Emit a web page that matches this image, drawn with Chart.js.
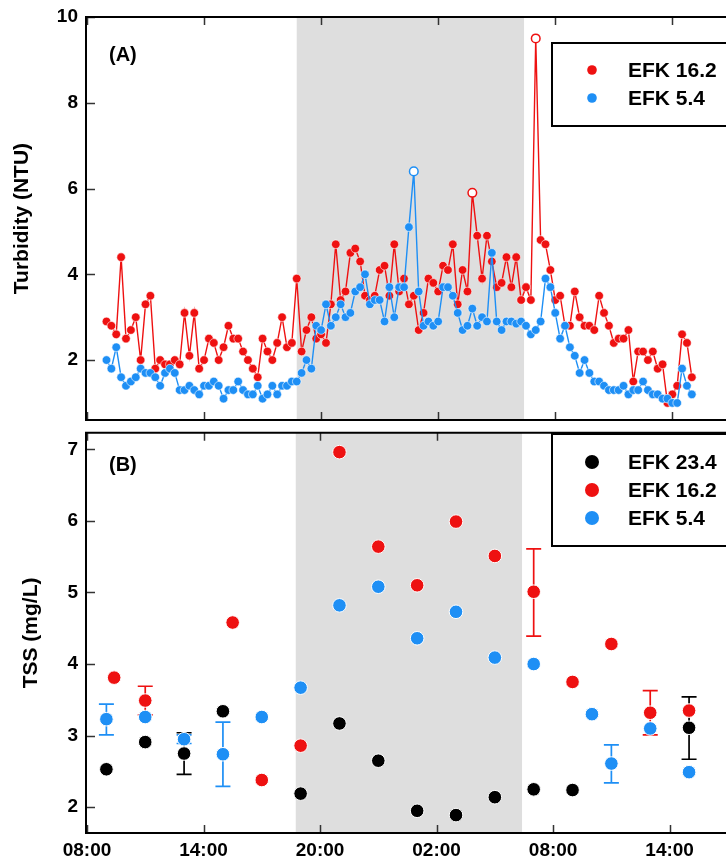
<!DOCTYPE html>
<html>
<head>
<meta charset="utf-8">
<script src="https://cdn.jsdelivr.net/npm/chart.js@4.4.0/dist/chart.umd.min.js"></script>
<style>
body { margin: 0; background: #fff; }
#wrap { position: relative; width: 726px; height: 867px; overflow: hidden; }
canvas { position: absolute; left: 0; }
#turbChart { top: 0; }
#tssChart { top: 425px; }
</style>
</head>
<body>
<div id="wrap">
    <canvas id="turbChart" width="726" height="425"></canvas>
    <canvas id="tssChart" width="726" height="442"></canvas>
</div>
<script>
// Eje de tiempo (horas desde las 00:00 del primer dia)
const xTickValues = [8, 14, 20, 26, 32, 38];
const xTickLabels = ['08:00', '14:00', '20:00', '02:00', '08:00', '14:00'];
const nightStart = 18.75;
const nightEnd = 30.4;

// (A) Turbidez cada 15 min desde las 09:00
const turbStart = 9;
const turbStep = 0.25;
const turbRed = [
    2.9, 2.8, 2.6, 4.4, 2.5, 2.7, 3.0, 2.0, 3.3, 3.5,
    1.8, 2.0, 1.9, 1.9, 2.0, 1.9, 3.1, 2.1, 3.1, 1.8,
    2.0, 2.5, 2.4, 2.0, 2.3, 2.8, 2.5, 2.5, 2.2, 2.0,
    1.8, 1.6, 2.5, 2.2, 2.0, 2.4, 3.0, 2.3, 2.4, 3.9,
    2.2, 2.7, 3.0, 2.5, 2.6, 2.4, 3.3, 4.7, 3.4, 3.6,
    4.5, 4.6, 4.3, 3.5, 3.4, 3.5, 4.1, 4.2, 3.5, 4.7,
    3.6, 3.9, 3.3, 3.5, 2.7, 3.1, 3.9, 3.8, 3.6, 4.2,
    4.1, 4.7, 3.3, 4.1, 3.6, 5.9, 4.9, 3.9, 4.9, 4.3,
    3.7, 3.8, 4.4, 3.7, 4.4, 3.4, 3.7, 3.4, 9.5, 4.8,
    4.7, 4.1, 3.4, 3.5, 2.8, 2.8, 3.6, 3.0, 2.8, 2.8,
    2.7, 3.5, 3.1, 2.8, 2.4, 2.5, 2.5, 2.7, 1.5, 2.2,
    2.2, 2.0, 2.2, 1.8, 1.9, 1.0, 1.2, 1.4, 2.6, 2.4, 1.6
];
const turbBlue = [
    2.0, 1.8, 2.3, 1.6, 1.4, 1.5, 1.6, 1.8, 1.7, 1.7,
    1.6, 1.4, 1.7, 1.8, 1.7, 1.3, 1.3, 1.4, 1.3, 1.2,
    1.4, 1.4, 1.5, 1.4, 1.1, 1.3, 1.3, 1.5, 1.3, 1.2,
    1.2, 1.4, 1.1, 1.2, 1.4, 1.2, 1.4, 1.4, 1.5, 1.5,
    1.7, 2.0, 1.8, 2.8, 2.7, 3.3, 2.8, 3.0, 3.3, 3.0,
    3.1, 3.6, 3.7, 4.0, 3.3, 3.4, 3.4, 2.9, 3.7, 3.0,
    3.7, 3.7, 5.1, 6.4, 3.6, 2.8, 2.9, 2.8, 2.9, 3.7,
    3.7, 3.5, 3.1, 2.7, 2.8, 3.2, 2.8, 3.0, 2.9, 4.5,
    2.9, 2.7, 2.9, 2.9, 2.85, 2.9, 2.8, 2.6, 2.7, 2.9,
    3.9, 3.7, 3.1, 2.5, 2.8, 2.3, 2.1, 1.7, 2.0, 1.7,
    1.5, 1.5, 1.4, 1.3, 1.3, 1.3, 1.4, 1.2, 1.3, 1.3,
    1.5, 1.3, 1.2, 1.2, 1.1, 1.1, 1.0, 1.0, 1.8, 1.4, 1.2
];
const redOpen = [75, 88];   // puntos atipicos (circulo vacio)
const blueOpen = [63];
const turbTicks = [2, 4, 6, 8, 10];

// (B) TSS
const blackTimes = [9, 11, 13, 15, 19, 21, 23, 25, 27, 29, 31, 33, 39];
const blackTSS = [2.53, 2.91, 2.75, 3.34, 2.19, 3.17, 2.65, 1.95, 1.89, 2.14, 2.25, 2.24, 3.11];
const blackLo = [null, null, 2.46, null, null, null, null, null, null, null, null, null, 2.67];
const blackHi = [null, null, 3.04, null, null, null, null, null, null, null, null, null, 3.54];

const redTimes = [9.4, 11, 15.5, 17, 19, 21, 23, 25, 27, 29, 31, 33, 35, 37, 39];
const redTSS = [3.81, 3.49, 4.58, 2.38, 2.86, 6.96, 5.64, 5.10, 5.99, 5.51, 5.01, 3.75, 4.28, 3.32, 3.35];
const redLo = [null, 3.29, null, null, null, null, null, null, null, null, 4.39, null, null, 3.01, null];
const redHi = [null, 3.69, null, null, null, null, null, null, null, null, 5.61, null, null, 3.63, null];

const blueTimes = [9, 11, 13, 15, 17, 19, 21, 23, 25, 27, 29, 31, 34, 35, 37, 39];
const blueTSS = [3.23, 3.26, 2.95, 2.74, 3.26, 3.67, 4.82, 5.08, 4.36, 4.73, 4.09, 4.00, 3.30, 2.61, 3.10, 2.49];
const blueLo = [3.01, null, 2.89, 2.29, null, null, null, null, null, null, null, null, null, 2.34, null, null];
const blueHi = [3.44, null, 3.01, 3.19, null, null, null, null, null, null, null, null, null, 2.87, null, null];
const tssTicks = [2, 3, 4, 5, 6, 7];

const RED = '#ee1111';
const BLUE = '#1e8ff5';
const BLACK = '#000000';
const FONT = "'Liberation Sans', Arial, sans-serif";

const toXY = (xs, ys) => ys.map((v, i) => ({ x: xs[i], y: v }));
const turbTimes = turbRed.map((_, i) => turbStart + i * turbStep);

// Sombreado nocturno, marcas de eje, marco, leyenda y rotulos
function panelPlugin(cfg) {
    return {
        id: 'panel',
        beforeDatasetsDraw(chart) {
            const { ctx, chartArea: a, scales: { x, y } } = chart;
            const x0 = x.getPixelForValue(nightStart);
            const x1 = x.getPixelForValue(nightEnd);
            ctx.save();
            ctx.fillStyle = '#dedede';
            ctx.fillRect(x0, a.top, x1 - x0, a.bottom - a.top);

            ctx.strokeStyle = '#333';
            ctx.lineWidth = 1.5;
            xTickValues.forEach(v => {
                const px = Math.round(x.getPixelForValue(v)) + 0.5;
                ctx.beginPath();
                ctx.moveTo(px, a.top); ctx.lineTo(px, a.top + 8);
                ctx.moveTo(px, a.bottom); ctx.lineTo(px, a.bottom - 8);
                ctx.stroke();
            });
            cfg.yTicks.forEach(v => {
                const py = Math.round(y.getPixelForValue(v)) + 0.5;
                ctx.beginPath();
                ctx.moveTo(a.left, py); ctx.lineTo(a.left + 9, py);
                ctx.stroke();
            });

            // barras de error
            (cfg.errors || []).forEach(e => {
                ctx.strokeStyle = e.color;
                ctx.lineWidth = 1.7;
                e.lo.forEach((lo, i) => {
                    if (lo === null) return;
                    const px = x.getPixelForValue(e.xs[i]);
                    const pl = y.getPixelForValue(lo);
                    const ph = y.getPixelForValue(e.hi[i]);
                    ctx.beginPath();
                    ctx.moveTo(px, pl); ctx.lineTo(px, ph);
                    ctx.moveTo(px - 7.5, pl); ctx.lineTo(px + 7.5, pl);
                    ctx.moveTo(px - 7.5, ph); ctx.lineTo(px + 7.5, ph);
                    ctx.stroke();
                });
            });
            ctx.restore();
        },
        afterDraw(chart) {
            const { ctx, chartArea: a } = chart;
            ctx.save();
            // marco
            ctx.strokeStyle = '#000';
            ctx.lineWidth = 2;
            ctx.beginPath();
            ctx.moveTo(chart.width + 5, a.top);
            ctx.lineTo(a.left, a.top);
            ctx.lineTo(a.left, a.bottom);
            ctx.lineTo(chart.width + 5, a.bottom);
            ctx.stroke();

            // etiqueta del panel
            ctx.fillStyle = '#000';
            ctx.font = 'bold 20px ' + FONT;
            ctx.textBaseline = 'middle';
            ctx.textAlign = 'left';
            ctx.fillText(cfg.panelLabel, 109, cfg.panelLabelY);

            // titulo del eje y
            ctx.save();
            ctx.translate(cfg.titleX, (a.top + a.bottom) / 2);
            ctx.rotate(-Math.PI / 2);
            ctx.textAlign = 'center';
            ctx.font = 'bold ' + cfg.titleSize + 'px ' + FONT;
            ctx.fillText(cfg.yTitle, 0, 0);
            ctx.restore();

            // leyenda
            const L = cfg.legend;
            ctx.fillStyle = '#fff';
            ctx.fillRect(552, L.top, chart.width, L.bottom - L.top);
            ctx.strokeStyle = '#000';
            ctx.lineWidth = 2;
            ctx.strokeRect(552, L.top, chart.width, L.bottom - L.top);
            ctx.font = 'bold 21px ' + FONT;
            L.items.forEach((it, i) => {
                const yy = L.firstY + i * L.gap;
                ctx.fillStyle = it.color;
                ctx.beginPath();
                ctx.arc(592, yy, L.r, 0, Math.PI * 2);
                ctx.fill();
                ctx.fillStyle = '#000';
                ctx.fillText(it.label, 628, yy + 1);
            });
            ctx.restore();
        }
    };
}

function xScale(showLabels, height, pad) {
    return {
        type: 'linear',
        min: 7.95,
        max: 40.5,
        grid: { display: false },
        border: { display: false },
        afterBuildTicks: s => { s.ticks = xTickValues.map(v => ({ value: v })); },
        afterFit: s => {
            s.height = height;
            s.paddingLeft = 0;
            s.paddingRight = 0;
        },
        ticks: {
            display: showLabels,
            padding: pad,
            color: '#000',
            maxRotation: 0,
            font: { family: FONT, size: 19, weight: 'bold' },
            callback: (v, i) => xTickLabels[i]
        }
    };
}

function yScale(min, max, ticks) {
    return {
        min: min,
        max: max,
        grid: { display: false },
        border: { display: false },
        afterBuildTicks: s => { s.ticks = ticks.map(v => ({ value: v })); },
        afterFit: s => {
            s.width = 86;
            s.paddingTop = 0;
            s.paddingBottom = 0;
        },
        ticks: {
            padding: 0,
            color: '#000',
            font: { family: FONT, size: 19, weight: 'bold' }
        }
    };
}

function turbSet(label, values, color, open, order) {
    return {
        label: label,
        data: toXY(turbTimes, values),
        borderColor: color,
        borderWidth: 1.4,
        pointRadius: 4.3,
        pointBackgroundColor: c => open.includes(c.dataIndex) ? '#fff' : color,
        pointBorderColor: c => open.includes(c.dataIndex) ? color : '#fff',
        pointBorderWidth: c => open.includes(c.dataIndex) ? 1.5 : 0.6,
        tension: 0,
        order: order
    };
}

new Chart(document.getElementById('turbChart'), {
    type: 'line',
    data: {
        datasets: [
            turbSet('EFK 16.2', turbRed, RED, redOpen, 1),
            turbSet('EFK 5.4', turbBlue, BLUE, blueOpen, 0)
        ]
    },
    options: {
        responsive: false,
        animation: false,
        events: [],
        layout: { padding: { top: 17, left: 0, right: 0, bottom: 0 } },
        plugins: { legend: { display: false }, tooltip: { enabled: false } },
        scales: {
            x: xScale(false, 3, 0),
            y: yScale(0.6, 10, turbTicks)
        }
    },
    plugins: [panelPlugin({
        yTicks: turbTicks,
        panelLabel: '(A)',
        panelLabelY: 55,
        yTitle: 'Turbidity (NTU)',
        titleX: 22,
        titleSize: 21,
        legend: {
            top: 43, bottom: 126, firstY: 70, gap: 28, r: 4.8,
            items: [{ label: 'EFK 16.2', color: RED }, { label: 'EFK 5.4', color: BLUE }]
        }
    })]
});

function tssSet(label, xs, ys, color, order) {
    return {
        label: label,
        data: toXY(xs, ys),
        showLine: false,
        pointRadius: 6.8,
        pointBackgroundColor: color,
        pointBorderColor: '#fff',
        pointBorderWidth: 1,
        order: order
    };
}

new Chart(document.getElementById('tssChart'), {
    type: 'scatter',
    data: {
        datasets: [
            tssSet('EFK 23.4', blackTimes, blackTSS, BLACK, 2),
            tssSet('EFK 16.2', redTimes, redTSS, RED, 1),
            tssSet('EFK 5.4', blueTimes, blueTSS, BLUE, 0)
        ]
    },
    options: {
        responsive: false,
        animation: false,
        events: [],
        layout: { padding: { top: 3, left: 0, right: 0, bottom: 0 } },
        plugins: { legend: { display: false }, tooltip: { enabled: false } },
        scales: {
            x: xScale(true, 34, -2),
            y: yScale(1.64, 7.23, tssTicks)
        }
    },
    plugins: [panelPlugin({
        yTicks: tssTicks,
        panelLabel: '(B)',
        panelLabelY: 40,
        yTitle: 'TSS (mg/L)',
        titleX: 31,
        titleSize: 21,
        errors: [
            { xs: blackTimes, lo: blackLo, hi: blackHi, color: BLACK },
            { xs: redTimes, lo: redLo, hi: redHi, color: RED },
            { xs: blueTimes, lo: blueLo, hi: blueHi, color: BLUE }
        ],
        legend: {
            top: 9, bottom: 121, firstY: 37, gap: 28, r: 7,
            items: [
                { label: 'EFK 23.4', color: BLACK },
                { label: 'EFK 16.2', color: RED },
                { label: 'EFK 5.4', color: BLUE }
            ]
        }
    })]
});
</script>
</body>
</html>
